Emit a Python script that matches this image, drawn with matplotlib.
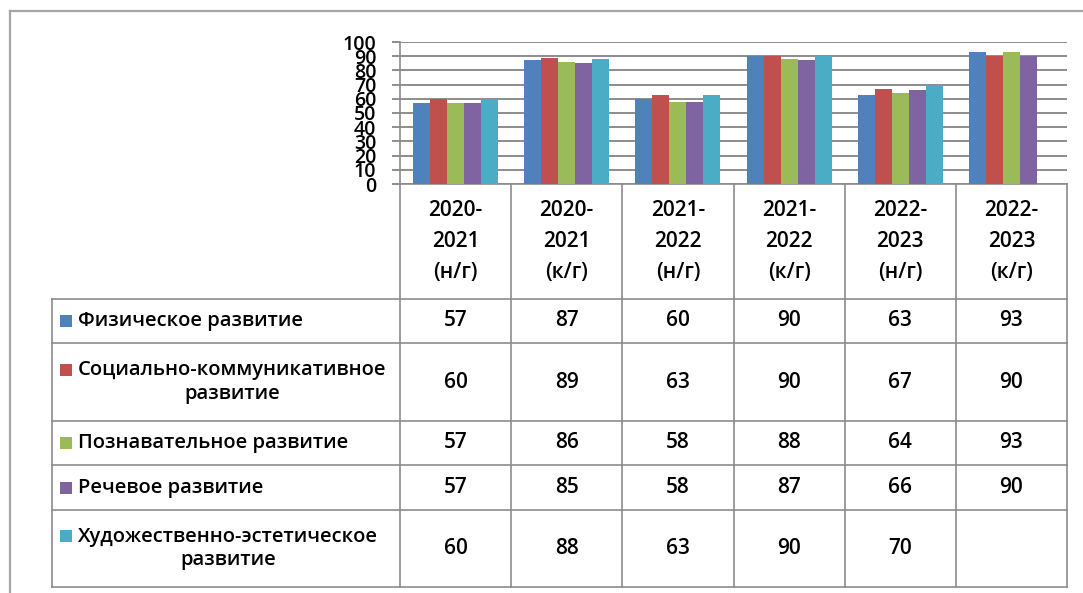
import numpy as np
import matplotlib.pyplot as plt
from matplotlib.patches import Rectangle

plt.rcParams['font.family'] = ['Open Sans', 'DejaVu Sans']
plt.rcParams['font.weight'] = 'semibold'

# подписи периодов (столбцы таблицы)
periods = ['2020-\n2021\n(н/г)', '2020-\n2021\n(к/г)', '2021-\n2022\n(н/г)',
           '2021-\n2022\n(к/г)', '2022-\n2023\n(н/г)', '2022-\n2023\n(к/г)']
# названия рядов
series = ['Физическое развитие', 'Социально-коммуникативное\nразвитие',
          'Познавательное развитие', 'Речевое развитие',
          'Художественно-эстетическое\nразвитие']
# значения, %
fiz = [57, 87, 60, 90, 63, 93]
soc = [60, 89, 63, 90, 67, 90]
poz = [57, 86, 58, 88, 64, 93]
rech = [57, 85, 58, 87, 66, 90]
hud = [60, 88, 63, 90, 70, np.nan]
yticks = list(range(0, 101, 10))

colors = ['#4F81BD', '#C0504D', '#9BBB59', '#8064A2', '#4BACC6']
grid_c = '#8c8c8c'
values = [fiz, soc, poz, rech, hud]

W, H = 1083, 593
fig = plt.figure(figsize=(W / 100, H / 100), dpi=100)

# фон с рамкой и таблицей в пикселях
bg = fig.add_axes([0, 0, 1, 1])
bg.set_xlim(0, W)
bg.set_ylim(H, 0)
bg.axis('off')

x0, x1 = 400, 1067
y_top, y_zero = 42, 184
cw = (x1 - x0) / len(periods)
tab_left = 52
row_edges = [299, 343, 421, 465, 510, 587]

# внешняя рамка
bg.plot([10, W], [11, 11], color='#a6a6a6', lw=1.6)
bg.plot([10, 10], [11, H], color='#a6a6a6', lw=1.6)

# линии таблицы
bg.plot([x0, x1], [y_zero, y_zero], color=grid_c, lw=1.2)
for y in row_edges:
    bg.plot([tab_left, x1], [y, y], color=grid_c, lw=1.2)
bg.plot([tab_left, tab_left], [row_edges[0], row_edges[-1]], color=grid_c, lw=1.2)
for j in range(len(periods) + 1):
    x = x0 + j * cw
    bg.plot([x, x], [y_zero, row_edges[-1]], color=grid_c, lw=1.2)

# заголовки столбцов
for j, p in enumerate(periods):
    bg.text(x0 + (j + 0.5) * cw, (y_zero + row_edges[0]) / 2, p,
            ha='center', va='center', fontsize=15, linespacing=1.6)

# строки: легенда + значения
for i, (name, vals) in enumerate(zip(series, values)):
    yc = (row_edges[i] + row_edges[i + 1]) / 2
    nlines = name.count('\n') + 1
    ym = yc - (nlines - 1) * 12.5
    bg.add_patch(Rectangle((60, ym - 6), 12, 12, color=colors[i], lw=0))
    bg.text(78, yc, name, ha='left', va='center', multialignment='center',
            fontsize=14.5)
    for j, v in enumerate(vals):
        if not np.isnan(v):
            bg.text(x0 + (j + 0.5) * cw, yc, f'{v:g}', ha='center',
                    va='center', fontsize=15)

# диаграмма
ax = fig.add_axes([x0 / W, 1 - y_zero / H, (x1 - x0) / W, (y_zero - y_top) / H])
ax.set_facecolor('none')
x = np.arange(len(periods))
bw = 17 / cw
for i, vals in enumerate(values):
    ax.bar(x + (i - 2) * bw, vals, width=bw, color=colors[i], zorder=3)

ax.set_xlim(-0.5, len(periods) - 0.5)
ax.set_ylim(0, 100)
ax.set_yticks(yticks)
ax.set_xticks([])
ax.grid(axis='y', color=grid_c, lw=1.4, zorder=0)
for s in ['top', 'right', 'bottom']:
    ax.spines[s].set_visible(False)
ax.spines['left'].set_color(grid_c)
ax.spines['left'].set_linewidth(1.2)
ax.tick_params(axis='y', direction='out', length=6, width=1.4, color=grid_c,
               pad=11, labelsize=14)

fig.savefig('out.png', dpi=100)
